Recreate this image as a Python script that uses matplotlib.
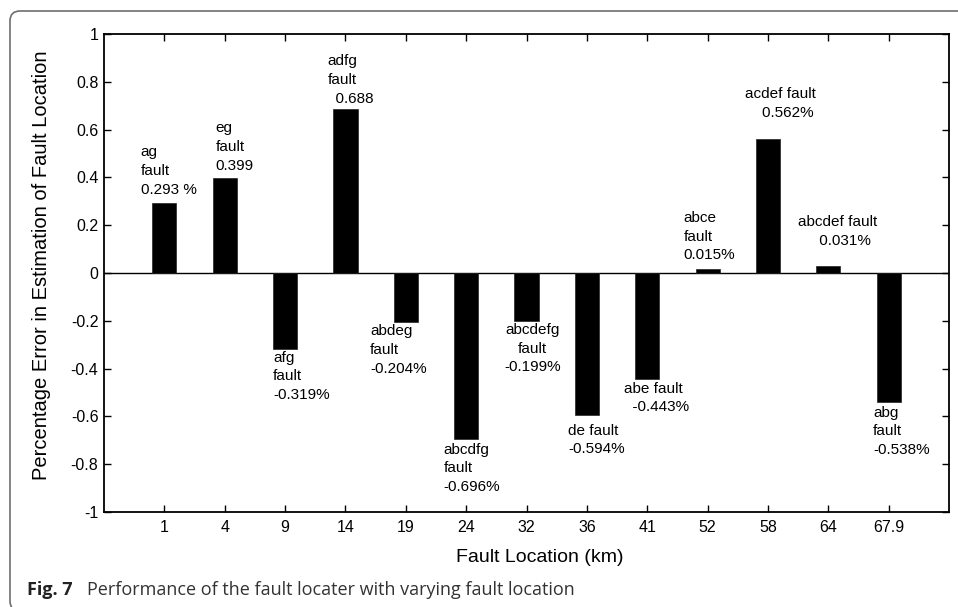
import matplotlib.pyplot as plt
import matplotlib.patches as mpatches
from matplotlib.transforms import IdentityTransform

# data
tick_labels = ["1", "4", "9", "14", "19", "24", "32", "36", "41", "52", "58", "64", "67.9"]
errors = [0.293, 0.399, -0.319, 0.688, -0.204, -0.696, -0.199, -0.594, -0.443, 0.015, 0.562, 0.031, -0.538]
notes = ["ag\nfault\n0.293 %", "eg\nfault\n0.399", "afg\nfault\n-0.319%", "adfg\nfault\n  0.688",
         "abdeg\nfault\n-0.204%", "abcdfg\nfault\n-0.696%", "abcdefg\nfault\n-0.199%",
         "de fault\n-0.594%", "abe fault\n  -0.443%", "abce\nfault\n0.015%",
         "acdef fault\n    0.562%", "abcdef fault\n     0.031%", "abg\nfault\n-0.538%"]
# label anchor (x, y, valign, halign) in data units
note_pos = [(0.61, 0.32, "bottom", "left"), (1.85, 0.42, "bottom", "left"), (2.8, -0.325, "top", "left"),
            (3.7, 0.70, "bottom", "left"), (4.41, -0.215, "top", "left"), (5.63, -0.71, "top", "left"),
            (7.1, -0.21, "top", "center"), (7.69, -0.63, "top", "left"), (8.61, -0.455, "top", "left"),
            (9.6, 0.045, "bottom", "left"), (10.62, 0.64, "bottom", "left"), (11.5, 0.105, "bottom", "left"),
            (12.74, -0.555, "top", "left")]

font = ["Liberation Sans", "DejaVu Sans"]
plt.rcParams['font.family'] = font

fig = plt.figure(figsize=(9.58, 6.07), dpi=100)
ax = fig.add_axes([104/958, 1-512/607, 845/958, 478/607])

x = list(range(1, len(errors)+1))
ax.bar(x, errors, width=0.4, color="black", edgecolor="#222222", linewidth=0.5, zorder=3)
ax.axhline(0, color="black", lw=1.0, zorder=2)

for (tx, ty, va, ha), s in zip(note_pos, notes):
    ax.text(tx, ty, s, va=va, ha=ha, multialignment=ha, fontsize=11, linespacing=1.42, zorder=4)

ax.set_xlim(0, 14)
ax.set_ylim(-1, 1)
ax.set_xticks(x)
ax.set_xticklabels(tick_labels)
ax.set_yticks([i/5 for i in range(-5, 6)])
ax.set_yticklabels(["-1", "-0.8", "-0.6", "-0.4", "-0.2", "0", "0.2", "0.4", "0.6", "0.8", "1"])
ax.tick_params(direction="in", top=True, right=True, length=5, width=1, labelsize=11.5, pad=4)
ax.tick_params(axis="x", pad=6)
for sp in ax.spines.values():
    sp.set_linewidth(1.3)

fig.text(540/958, 1-558/607, "Fault Location (km)", ha="center", va="center", fontsize=14)
fig.text(42/958, 1-265/607, "Percentage Error in Estimation of Fault Location", rotation=90,
         ha="center", va="center", fontsize=14.5)

# rounded frame around the figure, partly cut off on the right and bottom
frame = mpatches.FancyBboxPatch((10, -4), 990, 600, boxstyle="round,pad=0,rounding_size=10",
                                transform=IdentityTransform(), fill=False, edgecolor="#6e6e6e", lw=1.2)
fig.patches.append(frame)

fig.text(27/958, 1-590/607, "Fig. 7", ha="left", va="center", fontsize=13, fontweight="bold",
         family="Open Sans", color="#222222")
fig.text(87/958, 1-590/607, "Performance of the fault locater with varying fault location", ha="left",
         va="center", fontsize=13, family="Open Sans", color="#333333")

fig.savefig("out.png", dpi=100)
